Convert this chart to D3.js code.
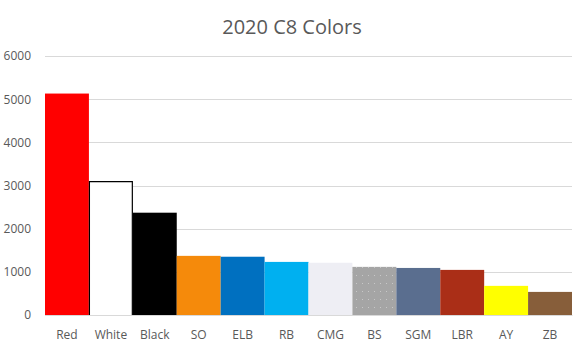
<!DOCTYPE html>
<html>
<head>
<meta charset="utf-8">
<script src="https://cdn.jsdelivr.net/npm/d3@7"></script>
<style>
  body { margin: 0; background: #fff; }
  text { font-family: "Open Sans", sans-serif; fill: #595959; }
</style>
</head>
<body>
<div id="chart"></div>
<script>
// chart data
const categories = ['Red', 'White', 'Black', 'SO', 'ELB', 'RB', 'CMG', 'BS', 'SGM', 'LBR', 'AY', 'ZB'];
const counts = [5130, 3100, 2370, 1370, 1350, 1230, 1210, 1115, 1090, 1045, 675, 535];
const barColors = ['#ff0000', '#ffffff', '#000000', '#f58a0b', '#0070c0', '#00b0f0',
                   '#eeeef4', '#a5a5a5', '#5a6e8f', '#aa2e17', '#ffff00', '#875e3a'];
const yTicks = [0, 1000, 2000, 3000, 4000, 5000, 6000];

const width = 585, height = 352;
const margin = { top: 56, right: 13, bottom: 37, left: 45 };

const svg = d3.select('#chart')
  .append('svg')
  .attr('width', width)
  .attr('height', height);

const x = d3.scaleBand()
  .domain(categories)
  .range([margin.left, width - margin.right])
  .padding(0);

const y = d3.scaleLinear()
  .domain([0, 6000])
  .range([height - margin.bottom, margin.top]);

// gridlines
svg.append('g')
  .selectAll('line')
  .data(yTicks)
  .enter()
  .append('line')
  .attr('x1', margin.left)
  .attr('x2', width - margin.right)
  .attr('y1', d => Math.round(y(d)) + 0.5)
  .attr('y2', d => Math.round(y(d)) + 0.5)
  .attr('stroke', '#d9d9d9')
  .attr('stroke-width', 1);

// dotted pattern for BS
const defs = svg.append('defs');
const pat = defs.append('pattern')
  .attr('id', 'dots')
  .attr('patternUnits', 'userSpaceOnUse')
  .attr('width', 6)
  .attr('height', 8);
pat.append('rect').attr('width', 6).attr('height', 8).attr('fill', '#a5a5a5');
pat.append('rect').attr('x', 2).attr('y', 3).attr('width', 1).attr('height', 1).attr('fill', '#c8c8c8');

// bars
svg.append('g')
  .selectAll('rect')
  .data(categories)
  .enter()
  .append('rect')
  .attr('x', d => x(d))
  .attr('y', (d, i) => y(counts[i]))
  .attr('width', x.bandwidth())
  .attr('height', (d, i) => y(0) - y(counts[i]))
  .attr('fill', (d, i) => d === 'BS' ? 'url(#dots)' : barColors[i]);

// outline for the white bar (left, top, right)
const wi = categories.indexOf('White');
const wx0 = x('White') + 0.5, wx1 = x('White') + x.bandwidth() - 0.5;
const wy0 = y(counts[wi]) + 0.5, wy1 = y(0);
svg.append('path')
  .attr('d', `M${wx0},${wy1}V${wy0}H${wx1}V${wy1}`)
  .attr('fill', 'none')
  .attr('stroke', '#000')
  .attr('stroke-width', 1.2);

// y axis labels
const yAxis = svg.append('g')
  .attr('transform', `translate(${margin.left},0)`)
  .call(d3.axisLeft(y).tickValues(yTicks).tickSize(0).tickPadding(14).tickFormat(d3.format('d')));
yAxis.select('.domain').remove();
yAxis.selectAll('text').style('font-size', '12px').attr('fill', '#595959');

// x axis
const xAxis = svg.append('g')
  .attr('transform', `translate(0,${y(0)})`)
  .call(d3.axisBottom(x).tickSize(0).tickPadding(15));
xAxis.select('.domain').attr('stroke', '#d9d9d9');
xAxis.selectAll('text').style('font-size', '12px').attr('fill', '#595959');

// title
svg.append('text')
  .attr('x', 292)
  .attr('y', 34)
  .attr('text-anchor', 'middle')
  .style('font-size', '20px')
  .text('2020 C8 Colors');
</script>
</body>
</html>
